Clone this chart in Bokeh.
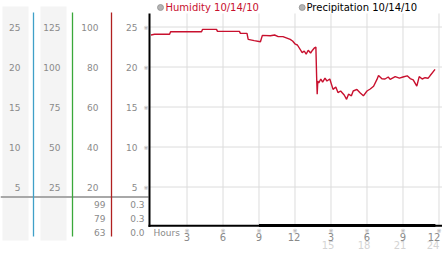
from bokeh.plotting import figure
from bokeh.models import Range1d
from bokeh.core.properties import value
from bokeh.embed import file_html
from bokeh.resources import INLINE

# ---------------- data ----------------
hum_hours = [0.0, 0.3, 1.55, 1.63, 4.21, 4.29, 5.46, 5.54, 7.37, 7.45, 8.0, 8.1, 8.6, 9.12,
             9.28, 9.95, 10.3, 10.6, 11.0, 11.6, 11.8, 12.03, 12.2, 12.6, 12.77, 12.93, 13.1,
             13.3, 13.46, 13.63, 13.74, 13.8, 13.85, 13.9, 13.98, 14.15, 14.3, 14.5, 14.66,
             14.9, 15.17, 15.4, 15.58, 15.8, 16.1, 16.3, 16.46, 16.7, 16.85, 17.16, 17.44,
             17.7, 18.0, 18.27, 18.55, 18.83, 18.96, 19.24, 19.5, 19.77, 19.93, 20.35, 20.7,
             21.0, 21.35, 21.6, 21.85, 22.15, 22.35, 22.6, 22.84, 23.1, 23.25, 23.67]
hum_values = [24.0, 24.1, 24.1, 24.4, 24.4, 24.7, 24.7, 24.45, 24.45, 24.2, 24.2, 23.45, 23.3, 23.15,
              23.95, 23.9, 24.0, 23.8, 23.8, 23.45, 23.25, 22.85, 22.75, 21.8, 22.0, 21.6, 22.1,
              21.75, 22.1, 22.4, 22.5, 18.9, 16.6, 18.25, 18.0, 18.5, 18.1, 18.6, 18.25,
              18.5, 17.2, 17.5, 16.8, 17.0, 16.5, 15.96, 16.6, 16.4, 17.0, 17.2, 16.75,
              16.4, 17.0, 17.25, 17.6, 18.45, 18.95, 18.54, 18.5, 18.75, 18.45, 18.8, 18.6,
              18.75, 18.9, 18.55, 18.4, 17.6, 18.8, 18.5, 18.66, 18.6, 18.9, 19.7]
precip_hours = [9.0, 23.7]
precip_values = [0.0, 0.0]

x_ticks = [3, 6, 9, 12, 15, 18, 21, 24]
x_tick_labels = ["3", "6", "9", "12", "3", "6", "9", "12"]
x_sub_ticks = [15, 18, 21, 24]
x_sub_labels = ["15", "18", "21", "24"]
y_ticks = [25, 20, 15, 10, 5]
col1_labels = ["25", "20", "15", "10", "5"]
col2_labels = ["125", "100", "75", "50", "25"]
col3_labels = ["100", "80", "60", "40", "20"]
col4_labels = ["25", "20", "15", "10", "5"]
hum_stats = ["99", "79", "63"]
precip_stats = ["0.3", "0.3", "0.0"]
legend_names = ["Humidity 10/14/10", "Precipitation 10/14/10"]
x_title = "Hours"

assert len(hum_hours) == len(hum_values)

FONT = "DejaVu Sans"
LABEL_GRAY = "#8a8a8a"
HUM_RED = "#c8102e"
GRID = "#dcdcdc"

# whole canvas is the frame; hours / humidity scales place the data,
# a pixel-style scale ("px"/"py") places the panel decorations
p = figure(width=442, height=253, output_backend="svg", toolbar_location=None,
           x_range=Range1d(-12.5417, 24.2917), y_range=Range1d(-3.3125, 28.3125),
           x_axis_location=None, y_axis_location=None, min_border=0)
p.outline_line_color = None
p.grid.visible = False
p.background_fill_color = "white"
p.border_fill_color = "white"
p.extra_x_ranges = {"px": Range1d(0, 442)}
p.extra_y_ranges = {"py": Range1d(253, 0), "precip": Range1d(-0.1313, 1.051)}

PX = dict(x_range_name="px", y_range_name="py")

# ---- left scale panel decorations ----
p.quad(left=[2, 40], right=[28, 66], bottom=[240, 240], top=[6, 6],
       fill_color="#f4f4f4", line_color=None, **PX)
p.segment(x0=[0], y0=[196.5], x1=[148], y1=[196.5], line_color="#a8a8a8", line_width=2, **PX)
p.segment(x0=[33, 72, 111], y0=[12] * 3, x1=[33, 72, 111], y1=[236] * 3,
          line_color=["#3fa0c8", "#3aa83a", "#b02020"], line_width=1.3, **PX)

# ---- main plot grid ----
p.segment(x0=x_ticks, y0=[0] * len(x_ticks), x1=x_ticks, y1=[26.69] * len(x_ticks),
          line_color=GRID, line_width=1)
p.segment(x0=[-0.1] * len(y_ticks), y0=y_ticks, x1=[24.29] * len(y_ticks), y1=y_ticks,
          line_color=GRID, line_width=1)

# ---- data ----
p.line(hum_hours, hum_values, line_color=HUM_RED, line_width=1.4)
p.line(precip_hours, precip_values, y_range_name="precip", line_color="black", line_width=3)

# axes lines
p.segment(x0=[149], y0=[13], x1=[149], y1=[226.5], line_color="black", line_width=2, **PX)
p.segment(x0=[148], y0=[225.3], x1=[442], y1=[225.3], line_color="black", line_width=2, **PX)

# ---- y labels (at the humidity scale values) ----
txt = dict(text_align="right", text_baseline="middle", text_font_size="9px",
           text_color=LABEL_GRAY, text_font=value(FONT))
n = len(y_ticks)
p.text(x=[20] * n, y=y_ticks, text=col1_labels, x_range_name="px", **txt)
p.text(x=[60] * n, y=y_ticks, text=col2_labels, x_range_name="px", **txt)
p.text(x=[98] * n, y=y_ticks, text=col3_labels, x_range_name="px", **txt)
p.text(x=[137] * n, y=y_ticks, text=col4_labels, x_range_name="px", **txt)
p.text(x=[145.5] * n, y=y_ticks, text=["※"] * n, x_range_name="px", text_align="center",
       text_baseline="middle", text_font_size="6px", text_color="#a0a0a0", text_font=value(FONT))

# stats rows
p.text(x=[105] * 3, y=[204, 218, 232], text=hum_stats, **PX, **txt)
p.text(x=[144] * 3, y=[204, 218, 232], text=precip_stats, **PX, **txt)

# ---- x labels ----
m = len(x_ticks)
p.text(x=x_ticks, y=[-0.44] * m, text=["※"] * m, text_align="center", text_baseline="middle",
       text_font_size="6px", text_color="#a0a0a0", text_font=value(FONT))
p.text(x=x_ticks, y=[-1.31] * m, text=x_tick_labels, x_offset=[0, 0, 0, -1, 0, 0, 0, -5],
       text_align="center", text_baseline="middle",
       text_font_size="10px", text_color=LABEL_GRAY, text_font=value(FONT))
p.text(x=x_sub_ticks, y=[-2.31] * len(x_sub_ticks), text=x_sub_labels, x_offset=[-3, -3, -3, -6],
       text_align="center", text_baseline="middle", text_font_size="10px",
       text_color="#d4d4d4", text_font=value(FONT))
p.text(x=[153], y=[232], text=[x_title], text_align="left", text_baseline="middle",
       text_font_size="9px", text_color=LABEL_GRAY, text_font=value(FONT), **PX)

# ---- legend ----
p.scatter(x=[160, 301.7], y=[7, 7], size=6, marker="circle", fill_color="#b4b4b4",
          line_color="#909090", line_width=0.8, **PX)
p.text(x=[165, 306], y=[7, 7], text=legend_names, text_align="left", text_baseline="middle",
       text_font_size="10px", text_color=[HUM_RED, "black"], text_font=value(FONT), **PX)

open("out.html", "w").write(file_html(p, INLINE))
